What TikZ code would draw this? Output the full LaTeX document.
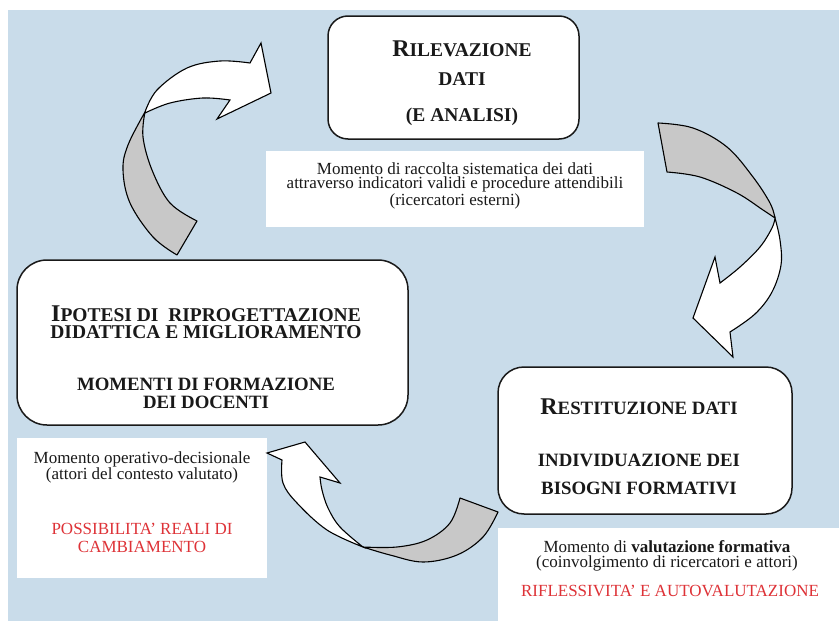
\documentclass[tikz,border=0pt]{standalone}
\usepackage{fontspec}
\setmainfont{Liberation Serif}
\definecolor{bgblue}{RGB}{201,220,234}
\definecolor{bandgray}{RGB}{200,200,200}
\definecolor{warnred}{RGB}{222,50,55}
\newcommand{\Ini}[1]{{\fontsize{24}{24}\selectfont #1}}
\tikzset{
  every node/.style={inner sep=0pt, outer sep=0pt},
  card/.style={draw=black!90, line width=1.5pt, fill=white, rounded corners=#1},
  note/.style={fill=white, draw=none},
  txt/.style={anchor=base, text width=420pt, align=flush center, text=black!90},
  head/.style 2 args={txt, font=\bfseries\fontsize{#1}{#2}\selectfont},
  body/.style={txt, font=\fontsize{17}{#1}\selectfont},
  alert/.style={txt, text=warnred, font=\fontsize{17}{#1}\selectfont},
  armback/.style={draw=black, line width=1.1pt, fill=bandgray, line join=round},
  armfront/.style={draw=black, line width=1.1pt, fill=white, line join=miter},
}
\begin{document}
\begin{tikzpicture}[x=1pt, y=-1pt]
\lineskiplimit=-100pt
\useasboundingbox (0,0) rectangle (839,621);
\fill[white] (0,0) rectangle (839,621);
\fill[bgblue] (8,10) rectangle (839,621);

% boxes
\node[card=20pt, minimum width=251pt, minimum height=123pt] (ril) at (453.5,77.5) {};
\node[note, minimum width=378pt, minimum height=76pt] (rilnote) at (455,189) {};
\node[card=30pt, minimum width=391pt, minimum height=165pt] (ipo) at (212.5,342.5) {};
\node[card=26pt, minimum width=294pt, minimum height=147pt] (res) at (645,440.5) {};
\node[note, minimum width=250pt, minimum height=140pt] (iponote) at (142,508) {};
\node[note, minimum width=341pt, minimum height=93pt] (resnote) at (668.5,574.5) {};

% arrow 1 (top left)
\draw[armback] plot[smooth, tension=0.6] coordinates {(145,112) (128,145) (123,170) (130,203) (153,237) (177,255)}
  -- plot[smooth, tension=0.6] coordinates {(197,221) (170,203) (152,170) (143,137) (145,112)} -- cycle;
\draw[armfront] plot[smooth, tension=0.6] coordinates {(145,112) (157,90) (187,68) (220,61) (250,63)}
  -- (261,43) -- (271,93) -- (217,119)
  -- plot[smooth, tension=0.6] coordinates {(230,100) (203,98) (170,103) (145,113)} -- cycle;

% arrow 2 (top right)
\draw[armback] plot[smooth, tension=0.6] coordinates {(658,123) (693,128) (727,147) (753,177) (770,203) (775,218)}
  -- plot[smooth, tension=0.6] coordinates {(775,218) (763,210) (737,193) (700,177) (667,172)} -- cycle;
\draw[armfront] plot[smooth, tension=0.6] coordinates {(775,218) (780,240) (781,265) (772,292) (755,314) (730,332)}
  -- (733,357) -- (693,318) -- (715,257)
  -- plot[smooth, tension=0.6] coordinates {(720,283) (740,267) (760,247) (772,228) (775,218)} -- cycle;

% arrow 3 (bottom)
\draw[armback] plot[smooth, tension=0.6] coordinates {(498,512) (483,537) (457,555) (423,562) (390,555) (363,547)}
  -- plot[smooth, tension=0.6] coordinates {(363,547) (397,547) (427,540) (450,523) (460,498)} -- cycle;
\draw[armfront] plot[smooth, tension=0.6] coordinates {(363,547) (327,530) (297,503) (283,483) (282,460)}
  -- (267,453) -- (305,442) -- (340,483)
  -- plot[smooth, tension=0.6] coordinates {(320,477) (322,490) (328,508) (340,527) (363,547)} -- cycle;

% texts top
\node[head={19.5}{28.3}] (riltext) at (462,56.7) {\Ini{R}ILEVAZIONE\\ DATI\\[8.4pt] (E ANALISI)};
\node[body=14.3] (rilnotetext) at (455,174.3) {Momento di raccolta sistematica dei dati\\ attraverso indicatori validi e procedure attendibili\\ (ricercatori esterni)};

% texts left
\node[head={19.5}{17}] (ipotext) at (206,321.5) {\Ini{I}POTESI DI\ \ RIPROGETTAZIONE\\ DIDATTICA E MIGLIORAMENTO};
\node[head={18.8}{18.3}] (formtext) at (206,390) {MOMENTI DI FORMAZIONE\\ DEI DOCENTI};
\node[body=15] (iponotetext) at (142,463.3) {Momento operativo-decisionale\\ (attori del contesto valutato)};
\node[alert=18.3] (ipoalert) at (142,534) {POSSIBILITA’ REALI DI\\ CAMBIAMENTO};

% texts right
\node[head={18.8}{20}] (restext) at (639,414) {\Ini{R}ESTITUZIONE DATI};
\node[head={18.8}{28.3}] (bistext) at (639,466) {INDIVIDUAZIONE DEI\\ BISOGNI FORMATIVI};
\node[body=14.6] (resnotetext) at (667,552.7) {Momento di \textbf{valutazione formativa}\\ (coinvolgimento di ricercatori e attori)};
\node[alert=18] (resalert) at (670,596) {RIFLESSIVITA’ E AUTOVALUTAZIONE};
\end{tikzpicture}
\end{document}
